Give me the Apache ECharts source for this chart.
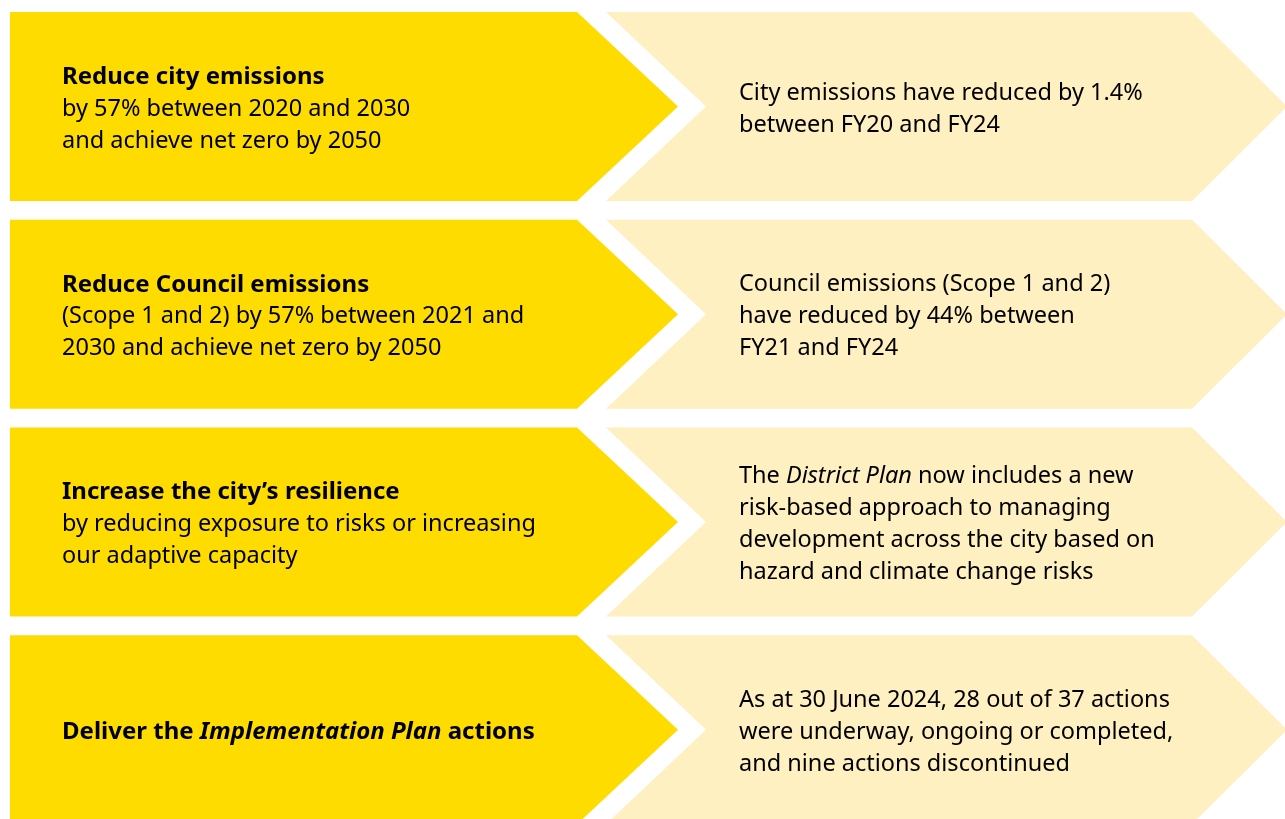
<!DOCTYPE html>
<html>
<head>
<meta charset="utf-8">
<title>Climate goals</title>
<script src="https://cdn.jsdelivr.net/npm/echarts@6/dist/echarts.min.js"></script>
<style>
    html, body { margin: 0; padding: 0; background: #ffffff; }
    #main { width: 1285px; height: 819px; }
</style>
</head>
<body>
<div id="main"></div>
<script>
    // rows of the graphic, top to bottom (value = row position on the y axis)
    var rows = [0, 1, 2, 3];

    // goal headline (bold), rich markup for the italic bit
    var goalTitles = [
        '{b|Reduce city emissions}',
        '{b|Reduce Council emissions}',
        '{b|Increase the city\u2019s resilience}',
        '{b|Deliver the }{bi|Implementation Plan}{b| actions}'
    ];

    // goal detail lines under the headline
    var goalDetails = [
        ['by 57% between 2020 and 2030', 'and achieve net zero by 2050'],
        ['(Scope 1 and 2) by 57% between 2021 and', '2030 and achieve net zero by 2050'],
        ['by reducing exposure to risks or increasing', 'our adaptive capacity'],
        []
    ];

    // progress text on the right
    var results = [
        ['{n|City emissions have reduced by 1.4%}', '{n|between FY20 and FY24}'],
        ['{n|Council emissions (Scope 1 and 2)}', '{n|have reduced by 44% between}', '{n|FY21 and FY24}'],
        ['{n|The }{i|District Plan}{n| now includes a new}', '{n|risk-based approach to managing}',
            '{n|development across the city based on}', '{n|hazard and climate change risks}'],
        ['{n|As at 30 June 2024, 28 out of 37 actions}', '{n|were underway, ongoing or completed,}',
            '{n|and nine actions discontinued}']
    ];

    var YELLOW = '#ffdc00';
    var PALE = '#fef0c0';
    var FONT = '"Noto Sans", sans-serif';
    var FS = 23.5;
    var LH = 32;

    var rich = {
        b: {fontFamily: FONT, fontSize: FS + 0.5, fontWeight: 'bold', lineHeight: LH, color: '#111'},
        bi: {fontFamily: FONT, fontSize: FS + 0.5, fontWeight: 'bold', fontStyle: 'italic', lineHeight: LH, color: '#111'},
        n: {fontFamily: FONT, fontSize: FS, lineHeight: LH, color: '#111'},
        i: {fontFamily: FONT, fontSize: FS, fontStyle: 'italic', lineHeight: LH, color: '#111'}
    };

    var chart = echarts.init(document.getElementById('main'), null, {renderer: 'canvas'});

    function renderRow(params, api) {
        var idx = params.dataIndex;
        var p = function (x, dy) {
            var c = api.coord([x, api.value(1)]);
            return [c[0], c[1] + dy];
        };
        var h = 94.5;
        var textShift = 2.5;

        var leftLines = [goalTitles[idx]].concat(goalDetails[idx].map(function (s) {
            return '{n|' + s + '}';
        }));

        return {
            type: 'group',
            children: [
                {
                    type: 'polygon',
                    shape: {points: [p(10, -h), p(577, -h), p(678, 0), p(577, h), p(10, h)]},
                    style: {fill: YELLOW}
                },
                {
                    type: 'polygon',
                    shape: {points: [p(606, -h), p(1192, -h), p(1287, 0), p(1192, h), p(606, h), p(706, 0)]},
                    style: {fill: PALE}
                },
                {
                    type: 'text',
                    x: p(62, textShift)[0],
                    y: p(62, textShift)[1],
                    style: {
                        text: leftLines.join('\n'),
                        rich: rich,
                        align: 'left',
                        verticalAlign: 'middle'
                    }
                },
                {
                    type: 'text',
                    x: p(739, textShift)[0],
                    y: p(739, textShift)[1],
                    style: {
                        text: results[idx].join('\n'),
                        rich: rich,
                        align: 'left',
                        verticalAlign: 'middle'
                    }
                }
            ]
        };
    }

    var option = {
        backgroundColor: '#ffffff',
        animation: false,
        grid: {left: 0, right: 0, top: 0, bottom: 0},
        xAxis: {type: 'value', min: 0, max: 1285, show: false},
        // one row every 207.75 px, first row centred at y = 106.5
        yAxis: {type: 'value', inverse: true, min: -0.5126, max: 3.4296, show: false},
        series: [{
            type: 'custom',
            clip: false,
            renderItem: renderRow,
            data: rows.map(function (r) { return [0, r]; })
        }]
    };
    chart.setOption(option);
</script>
</body>
</html>
